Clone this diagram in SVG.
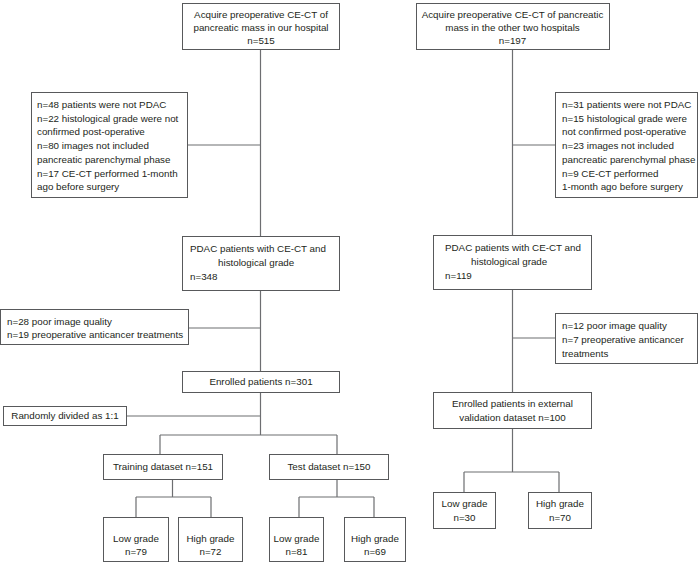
<svg xmlns="http://www.w3.org/2000/svg" width="700" height="563" viewBox="0 0 700 563">
<style>
.box{fill:#fff;stroke:#58595b;stroke-width:1}
.ln{fill:none;stroke:#6d6e71;stroke-width:1.2}
text{font-family:"Liberation Sans",Arial,sans-serif;font-size:9.8px;fill:#231f20}
.c{text-anchor:middle}
</style>
<rect width="700" height="563" fill="#fff"/>
<g id="connectors" class="ln">
<path d="M260.5 49V236M187 145H260.5M260.5 290V371M188 328H260.5M260.5 392V435M126 416H260.5M160 435H337M160 435V454M337 435V454"/>
<path d="M172.5 479V497M136 497H211M136 497V517M211 497V517"/>
<path d="M337 479V497M299 497H374M299 497V517M374 497V517"/>
<path d="M512.5 50V235M512.5 145H555M512.5 290V392M512.5 338H555M512.5 428V472M464 472H559M464 472V492M559 472V492"/>
</g>
<g id="n_top_left"><rect class="box" x="182.5" y="3.5" width="157" height="46"/>
<text class="c" x="261" y="18">Acquire preoperative CE-CT of</text>
<text class="c" x="261" y="31">pancreatic mass in our hospital</text>
<text class="c" x="261" y="44">n=515</text></g>
<g id="n_top_right"><rect class="box" x="416.5" y="3.5" width="193" height="46"/>
<text class="c" x="512.5" y="18">Acquire preoperative CE-CT of pancreatic</text>
<text class="c" x="512.5" y="31">mass in the other two hospitals</text>
<text class="c" x="512.5" y="44">n=197</text></g>
<g id="n_excl1_left"><rect class="box" x="31.5" y="92.5" width="156" height="105"/>
<text x="37" y="108">n=48 patients were not PDAC</text>
<text x="37" y="121.7">n=22 histological grade were not</text>
<text x="37" y="135.4">confirmed post-operative</text>
<text x="37" y="149.1">n=80 images not included</text>
<text x="37" y="162.8">pancreatic parenchymal phase</text>
<text x="37" y="176.5">n=17 CE-CT performed 1-month</text>
<text x="37" y="190.2">ago before surgery</text></g>
<g id="n_excl1_right"><rect class="box" x="555.5" y="92.5" width="142" height="105"/>
<text x="562" y="108">n=31 patients were not PDAC</text>
<text x="562" y="121.7">n=15 histological grade were</text>
<text x="562" y="135.4">not confirmed post-operative</text>
<text x="562" y="149.1">n=23 images not included</text>
<text x="562" y="162.8">pancreatic parenchymal phase</text>
<text x="562" y="176.5">n=9 CE-CT performed</text>
<text x="562" y="190.2">1-month ago before surgery</text></g>
<g id="n_pdac_left"><rect class="box" x="182.5" y="236.5" width="157" height="54"/>
<text x="190" y="251.5">PDAC patients with CE-CT and</text>
<text x="218" y="265.5">histological grade</text>
<text x="190" y="279.5">n=348</text></g>
<g id="n_pdac_right"><rect class="box" x="433.5" y="235.5" width="158" height="54"/>
<text x="445" y="250.5">PDAC patients with CE-CT and</text>
<text x="471" y="264.5">histological grade</text>
<text x="445" y="278.5">n=119</text></g>
<g id="n_excl2_left"><rect class="box" x="0.5" y="309.5" width="188" height="35"/>
<text x="7" y="324.5">n=28 poor image quality</text>
<text x="7" y="338">n=19 preoperative anticancer treatments</text></g>
<g id="n_excl2_right"><rect class="box" x="555.5" y="313.5" width="142" height="50"/>
<text x="562" y="328.5">n=12 poor image quality</text>
<text x="562" y="342.5">n=7 preoperative anticancer</text>
<text x="562" y="356.5">treatments</text></g>
<g id="n_enrolled_left"><rect class="box" x="182.5" y="371.5" width="157" height="21"/>
<text class="c" x="261" y="385.3">Enrolled patients n=301</text></g>
<g id="n_random"><rect class="box" x="3.5" y="406.5" width="123" height="19"/>
<text class="c" x="65" y="419.3">Randomly divided as 1:1</text></g>
<g id="n_enrolled_right"><rect class="box" x="433.5" y="392.5" width="158" height="36"/>
<text class="c" x="512.5" y="406.5">Enrolled patients in external</text>
<text class="c" x="512.5" y="421">validation dataset n=100</text></g>
<g id="n_training"><rect class="box" x="103.5" y="454.5" width="119" height="25"/>
<text class="c" x="163" y="470.3">Training dataset n=151</text></g>
<g id="n_test"><rect class="box" x="269.5" y="454.5" width="119" height="25"/>
<text class="c" x="329" y="470.3">Test dataset n=150</text></g>
<g id="n_train_low"><rect class="box" x="103.5" y="517.5" width="65" height="44"/>
<text class="c" x="136" y="541.5">Low grade</text>
<text class="c" x="136" y="555.3">n=79</text></g>
<g id="n_train_high"><rect class="box" x="178.5" y="517.5" width="64" height="44"/>
<text class="c" x="210.5" y="541.5">High grade</text>
<text class="c" x="210.5" y="555.3">n=72</text></g>
<g id="n_test_low"><rect class="box" x="269.5" y="517.5" width="54" height="44"/>
<text class="c" x="296.5" y="541.5">Low grade</text>
<text class="c" x="296.5" y="555.3">n=81</text></g>
<g id="n_test_high"><rect class="box" x="344.5" y="517.5" width="61" height="44"/>
<text class="c" x="375" y="541.5">High grade</text>
<text class="c" x="375" y="555.3">n=69</text></g>
<g id="n_ext_low"><rect class="box" x="433.5" y="492.5" width="62" height="36"/>
<text class="c" x="464.5" y="506.8">Low grade</text>
<text class="c" x="464.5" y="521.2">n=30</text></g>
<g id="n_ext_high"><rect class="box" x="528.5" y="492.5" width="63" height="36"/>
<text class="c" x="560" y="506.8">High grade</text>
<text class="c" x="560" y="521.2">n=70</text></g>
</svg>
